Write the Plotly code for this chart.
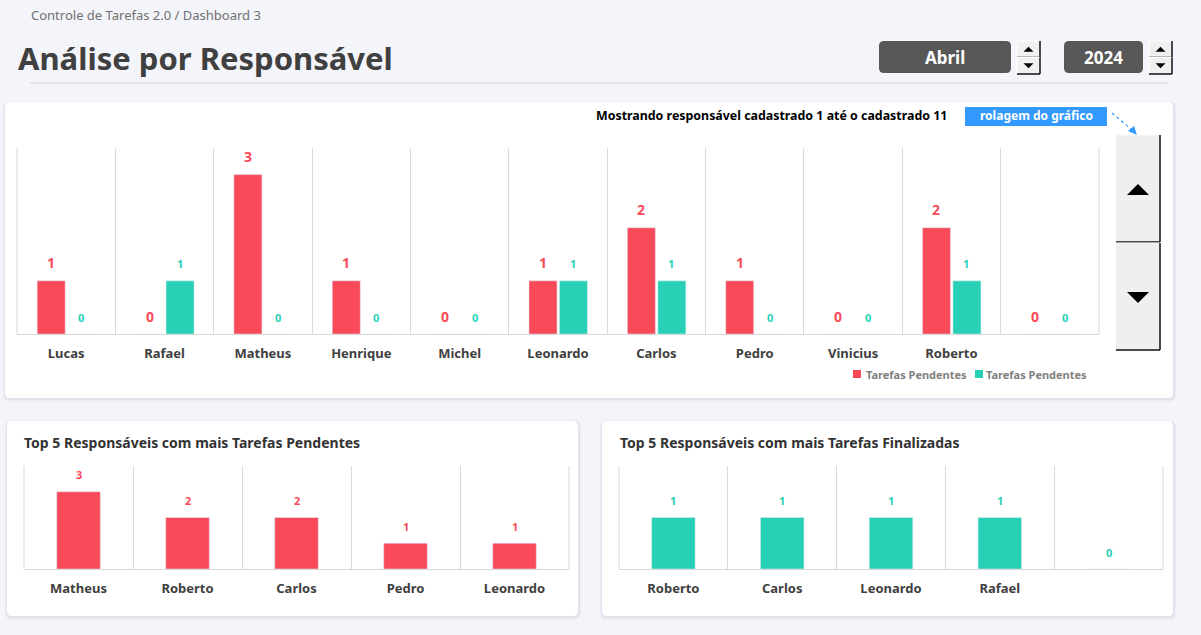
import plotly.graph_objects as go

W, H = 1201, 635
FONT = "Noto Sans"
RED = "#F94A59"
TEAL = "#28D0B5"
BG = "#F4F5FA"
DARK = "#404040"
GRID = "#D9D9D9"

# ---------------- data ----------------
responsaveis = ["Lucas", "Rafael", "Matheus", "Henrique", "Michel", "Leonardo",
                "Carlos", "Pedro", "Vinicius", "Roberto", " "]
pendentes = [1, 0, 3, 1, 0, 1, 2, 1, 0, 2, 0]
finalizadas = [0, 1, 0, 0, 0, 1, 1, 0, 0, 1, 0]

top_pend_nomes = ["Matheus", "Roberto", "Carlos", "Pedro", "Leonardo"]
top_pend_valores = [3, 2, 2, 1, 1]

top_fin_nomes = ["Roberto", "Carlos", "Leonardo", "Rafael", " "]
top_fin_valores = [1, 1, 1, 1, 0]

legend_labels = ["Tarefas Pendentes", "Tarefas Pendentes"]
mes, ano = "Abril", "2024"


def px(x):
    return x / W


def py(y):
    return 1 - y / H


fig = go.Figure()

# main chart
fig.add_trace(go.Bar(x=responsaveis, y=pendentes, marker_color=RED, width=0.285,
                     offset=-0.295, xaxis="x", yaxis="y", showlegend=False,
                     hoverinfo="x+y"))
fig.add_trace(go.Bar(x=responsaveis, y=finalizadas, marker_color=TEAL, width=0.285,
                     offset=0.015, xaxis="x", yaxis="y", showlegend=False,
                     hoverinfo="x+y"))
# bottom-left
fig.add_trace(go.Bar(x=top_pend_nomes, y=top_pend_valores, marker_color=RED, width=0.40,
                     xaxis="x2", yaxis="y2", showlegend=False))
# bottom-right
fig.add_trace(go.Bar(x=top_fin_nomes, y=top_fin_valores, marker_color=TEAL, width=0.40,
                     xaxis="x3", yaxis="y3", showlegend=False))

annotations = []
# value labels from data
for name, v in zip(responsaveis, pendentes):
    annotations.append(dict(x=name, y=v, xref="x", yref="y", text=f"<b>{v}</b>",
                            showarrow=False, xshift=-15, yshift=18, yanchor="middle",
                            font=dict(family=FONT, size=14, color=RED)))
for name, v in zip(responsaveis, finalizadas):
    annotations.append(dict(x=name, y=v, xref="x", yref="y", text=f"<b>{v}</b>",
                            showarrow=False, xshift=15, yshift=17, yanchor="middle",
                            font=dict(family=FONT, size=11, color=TEAL)))
for name, v in zip(top_pend_nomes, top_pend_valores):
    annotations.append(dict(x=name, y=v, xref="x2", yref="y2", text=f"<b>{v}</b>",
                            showarrow=False, yshift=17, yanchor="middle",
                            font=dict(family=FONT, size=11, color=RED)))
for name, v in zip(top_fin_nomes, top_fin_valores):
    annotations.append(dict(x=name, y=v, xref="x3", yref="y3", text=f"<b>{v}</b>",
                            showarrow=False, yshift=17, yanchor="middle",
                            font=dict(family=FONT, size=11, color=TEAL)))


def txt(x, y, text, size, color, bold=False, xanchor="left", yanchor="middle"):
    annotations.append(dict(x=px(x), y=py(y), xref="paper", yref="paper",
                            text=f"<b>{text}</b>" if bold else text, showarrow=False,
                            xanchor=xanchor, yanchor=yanchor,
                            font=dict(family=FONT, size=size, color=color)))


shapes = []


def rrect(x0, y0, x1, y1, r, fill, line=None, layer="below"):
    X0, X1 = px(x0), px(x1)
    Y0, Y1 = py(y0), py(y1)
    rx, ry = r / W, r / H
    path = (f"M {X0+rx},{Y0} L {X1-rx},{Y0} Q {X1},{Y0} {X1},{Y0-ry} "
            f"L {X1},{Y1+ry} Q {X1},{Y1} {X1-rx},{Y1} L {X0+rx},{Y1} "
            f"Q {X0},{Y1} {X0},{Y1+ry} L {X0},{Y0-ry} Q {X0},{Y0} {X0+rx},{Y0} Z")
    shapes.append(dict(type="path", path=path, xref="paper", yref="paper",
                       fillcolor=fill, line=dict(width=0) if line is None else line,
                       layer=layer))


def rect(x0, y0, x1, y1, fill, lw=0, lc=None, layer="above"):
    shapes.append(dict(type="rect", x0=px(x0), x1=px(x1), y0=py(y1), y1=py(y0),
                       xref="paper", yref="paper", fillcolor=fill,
                       line=dict(width=lw, color=lc or fill), layer=layer))


def line(x0, y0, x1, y1, color, w=1, dash="solid", layer="above"):
    shapes.append(dict(type="line", x0=px(x0), x1=px(x1), y0=py(y0), y1=py(y1),
                       xref="paper", yref="paper",
                       line=dict(color=color, width=w, dash=dash), layer=layer))


def tri(points, color):
    p = "M " + " L ".join(f"{px(a)},{py(b)}" for a, b in points) + " Z"
    shapes.append(dict(type="path", path=p, xref="paper", yref="paper",
                       fillcolor=color, line=dict(width=0), layer="above"))


def card(x0, y0, x1, y1):
    rrect(x0 - 2, y0 - 1, x1 + 3, y1 + 4, 7, "rgba(40,40,80,0.035)")
    rrect(x0 - 1, y0, x1 + 2, y1 + 2, 6, "rgba(40,40,80,0.05)")
    rrect(x0, y0, x1, y1, 5, "white")


card(5, 102, 1173, 398)
card(7, 421, 578, 616)
card(602, 421, 1173, 616)

# plot-area edge lines (left/right borders of each category grid)
for xr, yr in [("x", "y"), ("x2", "y2"), ("x3", "y3")]:
    for xe in (0, 1):
        shapes.append(dict(type="line", xref=f"{xr} domain", yref=f"{yr} domain",
                           x0=xe, x1=xe, y0=0, y1=1,
                           line=dict(color=GRID, width=1), layer="below"))

# header
txt(29, 15, "Controle de Tarefas 2.0 / Dashboard 3", 13, "#707070")
txt(16, 58, "Análise por Responsável", 31, DARK, bold=True)
line(30, 83, 1167, 83, "#D3D3D8")

# month / year boxes
rrect(879, 41, 1011, 73, 5, "#575757", layer="above")
txt(945, 57, mes, 17, "white", bold=True, xanchor="center")
rrect(1064, 41, 1143, 73, 5, "#575757", layer="above")
txt(1103.5, 57, ano, 17, "white", bold=True, xanchor="center")


def spinner(x0, y0, x1, y1):
    ym = (y0 + y1) / 2
    for a, b, up in [(y0, ym, True), (ym, y1, False)]:
        rect(x0, a, x1, b, "#F0F0F0")
        line(x0, a, x1, a, "white")
        line(x0, a, x0, b, "white")
        line(x1, a, x1, b, "#111111", 1.5)
        line(x0, b, x1, b, "#111111", 1.5)
        cx, cy = (x0 + x1) / 2, (a + b) / 2
        if up:
            tri([(cx - 5, cy + 2.5), (cx + 5, cy + 2.5), (cx, cy - 2.5)], "black")
        else:
            tri([(cx - 5, cy - 2.5), (cx + 5, cy - 2.5), (cx, cy + 2.5)], "black")


spinner(1017, 41, 1040, 74)
spinner(1149, 41, 1172, 74)

# info text and blue label
txt(949, 116, "Mostrando responsável cadastrado 1 até o cadastrado 11", 12.4, "black",
    bold=True, xanchor="right")
rect(965, 107, 1107, 126, "#3399FF")
txt(1036, 116, "rolagem do gráfico", 12, "white", bold=True, xanchor="center")
line(1112, 113, 1132, 130, "#3399FF", 1.2, "dot")
tri([(1137, 135), (1128, 131), (1134, 126)], "#3399FF")

# scroll buttons
for (a, b, up) in [(135, 242, True), (243, 350, False)]:
    rect(1116, a, 1160, b, "#EFEFEF")
    line(1116, a, 1160, a, "#F8F8F8")
    line(1160, a, 1160, b, "#111111", 1.5)
    line(1116, b, 1160, b, "#111111", 1.5)
    cy = (a + b) / 2 + 1
    if up:
        tri([(1127, cy + 5.5), (1149, cy + 5.5), (1138, cy - 5.5)], "black")
    else:
        tri([(1127, cy - 5.5), (1149, cy - 5.5), (1138, cy + 5.5)], "black")

# legend
rect(853, 370, 861, 378, RED)
txt(864, 374, legend_labels[0], 11, "#808080", bold=True)
rect(975, 370, 983, 378, TEAL)
txt(984, 374, legend_labels[1], 11, "#808080", bold=True)

# card titles
txt(22, 442, "Top 5 Responsáveis com mais Tarefas Pendentes", 14, "#333333", bold=True)
txt(618, 442, "Top 5 Responsáveis com mais Tarefas Finalizadas", 14, "#333333", bold=True)


def cat_axis(domain, n, anchor, size=13):
    return dict(domain=domain, type="category", range=[-0.5, n - 0.5],
                tickson="boundaries", showgrid=True, gridcolor=GRID, gridwidth=1,
                showline=True, linecolor=GRID, linewidth=1, ticks="",
                ticklabelstandoff=7, zeroline=False, fixedrange=True, anchor=anchor,
                tickfont=dict(family=FONT, size=size, color=DARK, weight="bold"))


def val_axis(domain, rng, anchor):
    return dict(domain=domain, range=rng, showgrid=False, showticklabels=False,
                zeroline=False, showline=False, fixedrange=True, anchor=anchor)


fig.update_layout(
    width=W, height=H,
    margin=dict(l=0, r=0, t=0, b=0),
    paper_bgcolor=BG, plot_bgcolor="rgba(0,0,0,0)",
    barmode="overlay",
    xaxis=cat_axis([px(17), px(1099)], len(responsaveis), "y"),
    yaxis=val_axis([py(334), py(148)], [0, 3.5], "x"),
    xaxis2=cat_axis([px(24), px(569)], len(top_pend_nomes), "y2"),
    yaxis2=val_axis([py(569), py(466)], [0, 4], "x2"),
    xaxis3=cat_axis([px(619), px(1163)], len(top_fin_nomes), "y3"),
    yaxis3=val_axis([py(569), py(466)], [0, 2], "x3"),
    shapes=shapes,
    annotations=annotations,
    showlegend=False,
    font=dict(family=FONT),
)

fig.write_html("out.html")
